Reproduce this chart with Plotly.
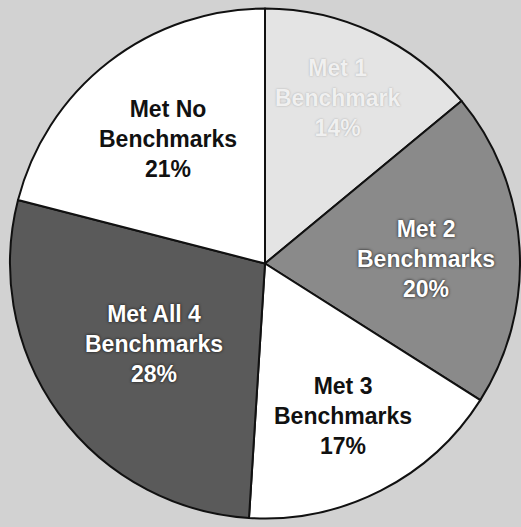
import math
import plotly.graph_objects as go

# Share of schools by number of benchmarks met
categories = ["Met 1 Benchmark", "Met 2 Benchmarks", "Met 3 Benchmarks",
              "Met All 4 Benchmarks", "Met No Benchmarks"]
label_lines = [["Met 1", "Benchmark"], ["Met 2", "Benchmarks"], ["Met 3", "Benchmarks"],
               ["Met All 4", "Benchmarks"], ["Met No", "Benchmarks"]]
percents = [14, 20, 17, 28, 21]

slice_colors = ["#e4e4e4", "#8a8a8a", "#ffffff", "#5a5a5a", "#ffffff"]
text_colors = ["#f0f0f0", "#ffffff", "#111111", "#ffffff", "#111111"]
text_shadows = ["0px 0px 2px #a8a8a8", "0px 0px 3px #111111", "none",
                "0px 0px 3px #111111", "none"]
label_radius = [0.71, 0.63, 0.67, 0.54, 0.62]
label_shift_deg = [-1.5, 2.0, 0.0, 0.0, 0.0]

W, H = 521, 527
x0, x1 = 10, 520
y0, y1 = 6, 521
cx, cy = (x0 + x1) / 2, (y0 + y1) / 2
R = min(x1 - x0, y1 - y0) / 2

fig = go.Figure(go.Pie(
    labels=categories,
    values=percents,
    sort=False,
    direction="clockwise",
    rotation=0,
    textinfo="none",
    hoverinfo="label+percent",
    marker=dict(colors=slice_colors, line=dict(color="#111111", width=2)),
    domain=dict(x=[x0 / W, x1 / W], y=[1 - y1 / H, 1 - y0 / H]),
    showlegend=False,
))

# Labels placed near the middle angle of each slice
total = sum(percents)
start = 0.0
for i, v in enumerate(percents):
    mid = start + v / total * 360 / 2 + label_shift_deg[i]
    start += v / total * 360
    a = math.radians(mid)
    px = cx + label_radius[i] * R * math.sin(a)
    py = cy - label_radius[i] * R * math.cos(a)
    text = "<br>".join(label_lines[i] + [f"{v}%"])
    fig.add_annotation(
        x=px / W, y=1 - py / H, xref="paper", yref="paper",
        xanchor="center", yanchor="middle",
        text=text, showarrow=False, align="center",
        font=dict(family="Liberation Sans, Arial, sans-serif", size=23,
                  color=text_colors[i], weight="bold", shadow=text_shadows[i]),
    )

fig.update_layout(
    width=W, height=H,
    margin=dict(l=0, r=0, t=0, b=0),
    paper_bgcolor="#d2d2d2",
    plot_bgcolor="#d2d2d2",
)

fig.write_html("out.html")
